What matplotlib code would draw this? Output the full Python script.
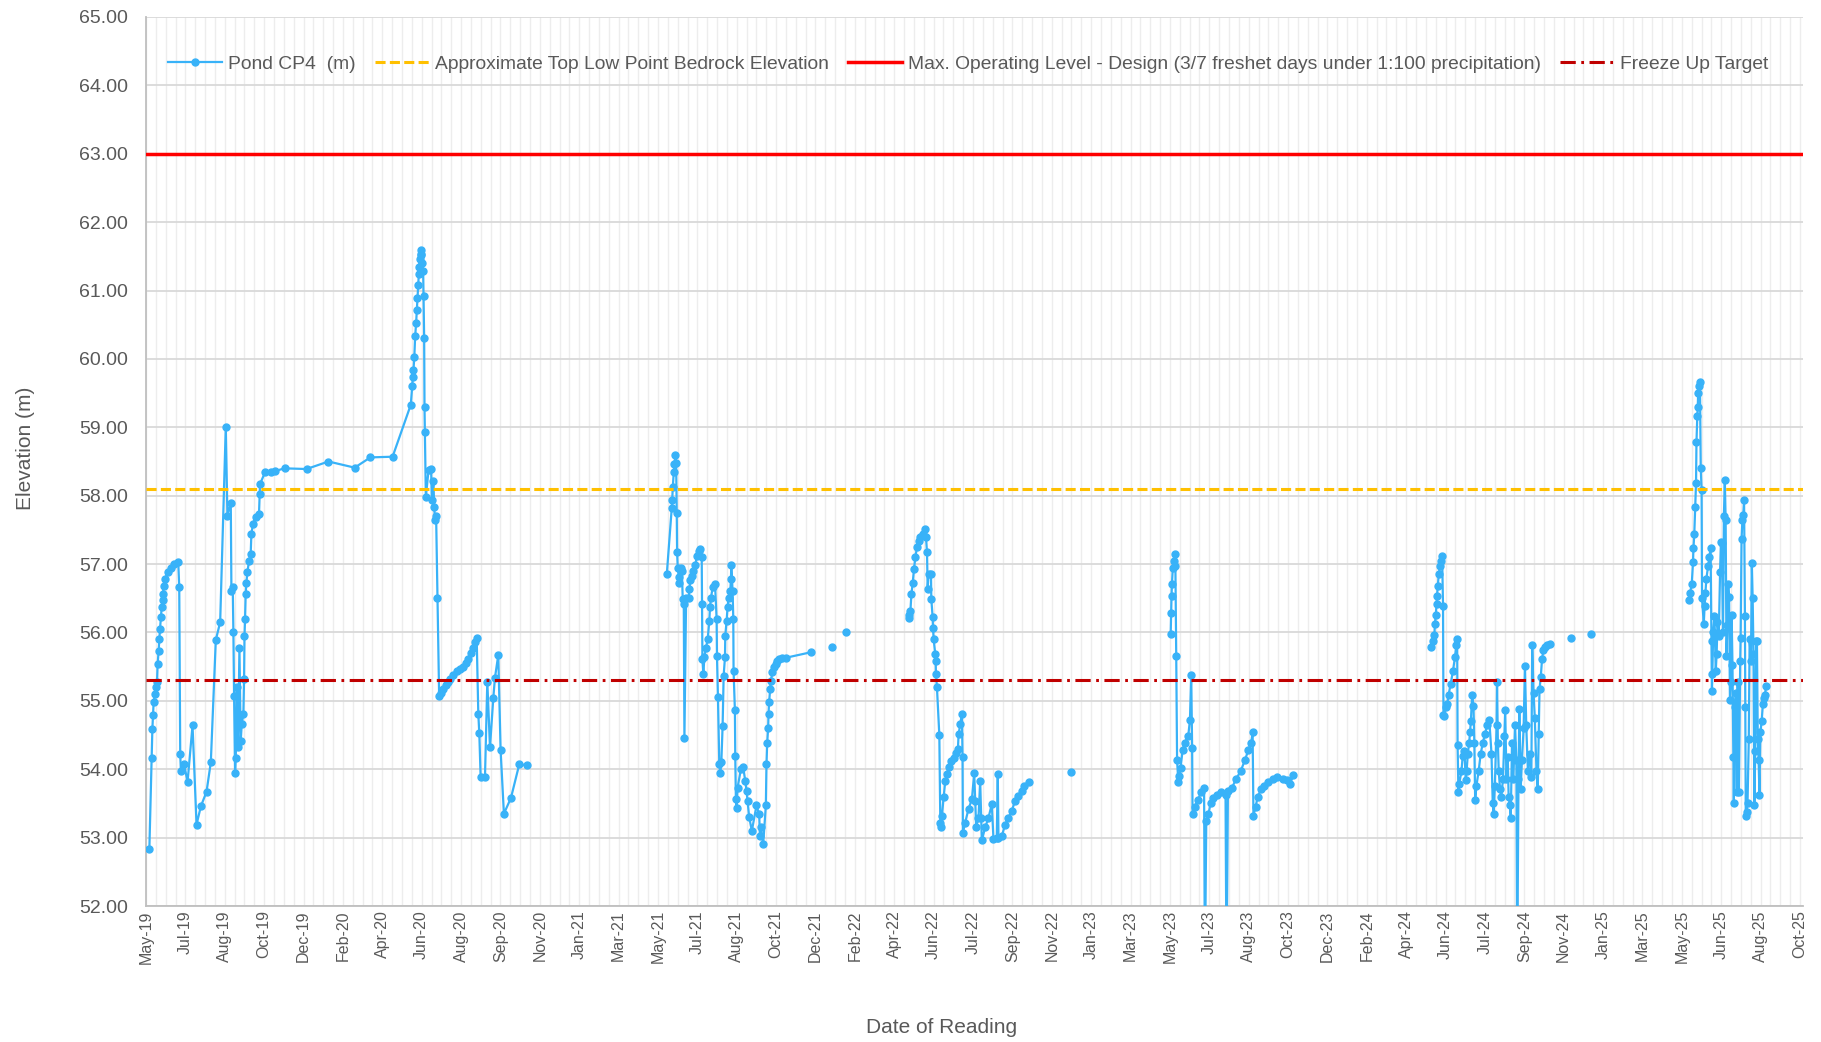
import matplotlib.pyplot as plt
import matplotlib.dates as mdates
import numpy as np

# reading dates are Excel serial day numbers (days since 1899-12-30)
days_2019 = [43600.7, 43604.0, 43605.0, 43605.9, 43606.8, 43608.7, 43610.1, 43611.6, 43612.5, 43613.9,
             43614.9, 43615.8, 43617.2, 43618.2, 43619.6, 43620.1, 43621.0, 43622.9, 43626.7, 43631.4,
             43636.1, 43641.8, 43643.2, 43644.6, 43645.6, 43650.3, 43655.0, 43662.1, 43667.8, 43674.0,
             43682.0, 43688.1, 43695.2, 43701.4, 43709.4, 43711.7, 43716.5, 43717.4, 43719.3, 43720.2,
             43721.2, 43722.6, 43723.6, 43725.0, 43726.9, 43728.8, 43730.6, 43732.1, 43734.4, 43735.4,
             43736.0, 43736.8, 43737.7, 43738.7, 43740.1, 43742.5, 43744.8, 43745.8, 43748.1, 43751.9,
             43756.6, 43757.6, 43758.1, 43765.1, 43773.2, 43779.3, 43793.0, 43824.2, 43855.4, 43892.7,
             43915.0, 43946.6]
level_2019 = [52.83, 54.17, 54.59, 54.79, 54.98, 55.10, 55.20, 55.27, 55.54, 55.73,
              55.91, 56.05, 56.22, 56.37, 56.47, 56.56, 56.68, 56.78, 56.88, 56.95,
              57.00, 57.03, 56.67, 54.22, 53.97, 54.07, 53.81, 54.64, 53.19, 53.46,
              53.67, 54.10, 55.89, 56.15, 59.01, 57.71, 57.90, 56.61, 56.66, 56.01,
              55.07, 53.94, 54.17, 55.20, 54.32, 55.78, 54.41, 54.66, 54.81, 55.32,
              55.95, 56.20, 56.56, 56.73, 56.88, 57.05, 57.15, 57.44, 57.59, 57.69,
              57.73, 58.03, 58.17, 58.34, 58.35, 58.36, 58.40, 58.39, 58.50, 58.41,
              58.56, 58.57]

days_2020 = [43972.5, 43974.5, 43975.3, 43976.3, 43977.5, 43978.7, 43980.1, 43981.1, 43982.0, 43983.0,
             43983.9, 43984.4, 43985.3, 43986.3, 43986.8, 43987.7, 43989.1, 43990.1, 43990.6, 43991.5,
             43992.0, 43992.5, 43993.9, 43997.7, 44001.4, 44002.4, 44004.7, 44005.7, 44007.1, 44008.5,
             44010.4, 44012.8, 44015.0, 44018.9, 44022.0, 44025.0, 44028.4, 44032.0, 44037.8, 44042.0,
             44047.3, 44051.0, 44054.4, 44058.0, 44061.5, 44064.0, 44066.2, 44068.5, 44069.9, 44071.8,
             44078.0, 44081.3, 44085.1, 44089.8, 44092.2, 44096.9, 44100.2, 44104.9, 44114.9, 44126.7,
             44137.1]
level_2020 = [59.33, 59.60, 59.73, 59.84, 60.03, 60.33, 60.53, 60.71, 60.89, 61.08,
              61.24, 61.35, 61.46, 61.52, 61.59, 61.54, 61.40, 61.28, 60.92, 60.30,
              59.29, 58.93, 57.98, 58.37, 58.39, 57.93, 58.22, 57.83, 57.64, 57.71,
              56.51, 55.07, 55.12, 55.17, 55.23, 55.28, 55.32, 55.38, 55.44, 55.46,
              55.49, 55.55, 55.61, 55.70, 55.78, 55.86, 55.92, 54.81, 54.53, 53.89,
              53.89, 55.28, 54.32, 55.04, 55.34, 55.67, 54.28, 53.35, 53.58, 54.07,
              54.06]

days_2021 = [44336.6, 44343.6, 44344.2, 44345.1, 44346.5, 44347.4, 44348.8, 44349.8, 44350.7, 44351.2,
             44352.1, 44353.6, 44354.5, 44356.9, 44358.0, 44359.2, 44360.7, 44361.6, 44364.0, 44367.7,
             44368.7, 44370.1, 44372.5, 44374.4, 44377.2, 44379.1, 44381.9, 44384.3, 44386.2, 44386.6,
             44387.2, 44388.5, 44390.0, 44392.3, 44394.7, 44397.0, 44398.0, 44399.4, 44401.8, 44405.1,
             44407.4, 44407.9, 44409.3, 44411.2, 44412.6, 44414.1, 44415.9, 44417.4, 44419.3, 44419.7,
             44421.6, 44423.0, 44424.4, 44426.8, 44427.8, 44428.2, 44430.1, 44431.1, 44431.5, 44433.4,
             44433.9, 44434.8, 44435.8, 44437.2, 44441.9, 44445.2, 44448.1, 44450.0, 44451.4, 44453.7,
             44457.5, 44464.1, 44467.9, 44469.0, 44470.3, 44473.6, 44477.4, 44478.3, 44479.3, 44480.7,
             44481.2, 44482.1, 44483.5, 44484.5, 44486.8, 44489.2, 44491.6, 44493.9, 44496.3, 44501.0,
             44505.7, 44541.2]
level_2021 = [56.86, 57.82, 57.93, 58.13, 58.35, 58.46, 58.59, 58.48, 57.75, 57.17,
              56.95, 56.81, 56.72, 56.95, 56.90, 56.49, 56.41, 54.46, 56.50, 56.51,
              56.64, 56.76, 56.83, 56.90, 56.98, 57.12, 57.19, 57.22, 57.10, 56.42,
              55.61, 55.39, 55.64, 55.78, 55.90, 56.17, 56.37, 56.51, 56.66, 56.71,
              56.20, 55.66, 55.05, 54.07, 53.94, 54.10, 54.63, 55.37, 55.64, 55.95,
              56.17, 56.37, 56.51, 56.61, 56.78, 56.98, 56.61, 56.20, 55.44, 54.86,
              54.19, 53.56, 53.44, 53.73, 54.00, 54.03, 53.83, 53.68, 53.54, 53.30,
              53.10, 53.47, 53.34, 53.02, 53.15, 52.91, 53.47, 54.07, 54.38, 54.61,
              54.81, 54.99, 55.17, 55.29, 55.42, 55.49, 55.54, 55.59, 55.61, 55.63,
              55.63, 55.71]

days_2022 = [44680.6, 44681.5, 44683.0, 44684.4, 44686.3, 44688.1, 44690.0, 44692.4, 44694.8, 44697.1,
             44700.4, 44704.2, 44705.2, 44706.6, 44707.5, 44708.9, 44712.2, 44712.7, 44714.6, 44715.1,
             44716.0, 44718.4, 44718.9, 44719.3, 44720.7, 44724.1, 44725.5, 44726.0, 44727.8, 44730.2,
             44732.6, 44734.9, 44737.3, 44741.1, 44744.4, 44747.7, 44750.5, 44751.5, 44753.8, 44756.2,
             44757.1, 44757.6, 44760.9, 44765.6, 44770.4, 44773.7, 44775.1, 44776.5, 44779.8, 44782.2,
             44783.6, 44784.5, 44789.3, 44794.0, 44798.7, 44801.1, 44805.8, 44807.2, 44808.2, 44812.9,
             44817.6, 44822.4, 44827.1, 44831.8, 44836.5, 44841.3, 44844.6, 44852.1]
level_2022 = [56.21, 56.26, 56.32, 56.56, 56.73, 56.93, 57.10, 57.25, 57.34, 57.40,
              57.44, 57.51, 57.39, 57.17, 56.64, 56.86, 56.86, 56.49, 56.22, 56.07,
              55.90, 55.68, 55.59, 55.39, 55.20, 54.50, 53.22, 53.16, 53.32, 53.59,
              53.83, 53.93, 54.03, 54.12, 54.17, 54.24, 54.29, 54.51, 54.66, 54.81,
              54.18, 53.07, 53.22, 53.42, 53.56, 53.94, 53.54, 53.16, 53.29, 53.83,
              53.29, 52.96, 53.15, 53.29, 53.49, 52.98, 53.00, 53.93, 53.00, 53.02,
              53.19, 53.29, 53.39, 53.54, 53.61, 53.68, 53.76, 53.82]

days_2023 = [45053.1, 45053.7, 45054.3, 45054.9, 45056.1, 45057.9, 45059.2, 45059.8, 45061.0, 45062.2,
             45064.0, 45065.5, 45067.1, 45070.1, 45073.2, 45078.1, 45080.5, 45082.3, 45083.6, 45084.2,
             45087.2, 45091.5, 45096.4, 45100.6, 45101.8, 45103.7, 45106.7, 45109.8, 45112.8, 45118.9,
             45125.0, 45131.1, 45132.5, 45134.5, 45140.3, 45146.2, 45152.5, 45158.6, 45163.5, 45167.7,
             45169.6, 45170.8, 45173.8, 45176.9, 45181.8, 45186.0, 45192.1, 45198.2, 45204.3, 45213.5,
             45218.3, 45223.2, 45227.5]
level_2023 = [55.98, 56.29, 56.53, 56.71, 56.94, 57.04, 57.15, 56.97, 55.65, 54.13,
              53.81, 53.90, 54.02, 54.28, 54.39, 54.49, 54.72, 55.38, 54.31, 53.34,
              53.45, 53.55, 53.66, 53.73, 51.00, 53.24, 53.34, 53.50, 53.58, 53.63,
              53.66, 53.63, 51.00, 53.68, 53.73, 53.86, 53.97, 54.13, 54.28, 54.39,
              54.54, 53.32, 53.45, 53.60, 53.71, 53.76, 53.81, 53.86, 53.89, 53.86,
              53.84, 53.79, 53.92]

days_2024 = [45423.9, 45425.7, 45428.1, 45428.8, 45430.0, 45431.2, 45431.8, 45433.0, 45434.3, 45436.1,
             45437.9, 45439.1, 45440.4, 45441.0, 45442.2, 45444.0, 45446.5, 45448.3, 45451.3, 45454.4,
             45457.4, 45459.3, 45460.5, 45461.1, 45462.3, 45463.5, 45466.6, 45468.4, 45470.8, 45472.7,
             45473.9, 45475.7, 45477.6, 45478.8, 45480.0, 45481.8, 45483.7, 45484.9, 45486.1, 45487.9,
             45491.0, 45494.0, 45497.1, 45500.1, 45503.2, 45506.2, 45509.3, 45511.1, 45512.3, 45514.1,
             45516.6, 45517.2, 45518.4, 45519.6, 45521.5, 45523.3, 45525.7, 45527.6, 45528.8, 45530.6,
             45532.4, 45533.7, 45535.5, 45536.7, 45538.5, 45540.4, 45542.8, 45544.7, 45545.9, 45547.7,
             45548.9, 45550.8, 45552.6, 45555.0, 45556.9, 45558.7, 45561.1, 45564.2, 45566.0, 45567.2,
             45569.1, 45570.9, 45573.3, 45575.1, 45576.4, 45577.6, 45579.4, 45581.2, 45583.1, 45585.5,
             45588.6, 45592.8]
level_2024 = [55.79, 55.87, 55.96, 56.12, 56.25, 56.41, 56.53, 56.68, 56.85, 56.97,
              57.04, 57.12, 56.39, 54.80, 54.78, 54.91, 54.96, 55.09, 55.25, 55.43,
              55.64, 55.82, 55.91, 54.36, 53.66, 53.79, 53.97, 54.20, 54.26, 53.84,
              53.97, 54.23, 54.39, 54.54, 54.70, 55.09, 54.93, 54.39, 53.55, 53.76,
              53.97, 54.23, 54.39, 54.52, 54.65, 54.72, 54.23, 53.50, 53.34, 53.76,
              54.65, 55.27, 54.39, 53.97, 53.71, 53.60, 53.86, 54.49, 54.86, 53.86,
              54.18, 53.60, 53.47, 53.29, 54.39, 53.86, 54.65, 54.13, 51.00, 53.86,
              54.88, 53.71, 54.13, 54.60, 55.51, 54.65, 53.97, 54.23, 53.89, 55.82,
              55.12, 54.75, 53.97, 53.71, 54.52, 55.17, 55.35, 55.61, 55.74, 55.79,
              55.82, 55.83]

days_2025 = [45789.8, 45791.7, 45794.1, 45795.9, 45796.5, 45797.7, 45799.0, 45800.2, 45800.8, 45802.0,
             45802.6, 45803.2, 45804.5, 45805.7, 45806.9, 45808.1, 45808.7, 45811.2, 45812.4, 45813.6,
             45814.8, 45817.3, 45819.1, 45820.9, 45822.2, 45822.8, 45823.4, 45824.6, 45826.4, 45828.2,
             45829.5, 45830.7, 45832.5, 45834.4, 45835.6, 45836.8, 45838.6, 45839.8, 45841.1, 45842.3,
             45843.5, 45844.7, 45845.9, 45847.2, 45848.4, 45849.6, 45850.8, 45852.0, 45853.3, 45853.9,
             45855.1, 45856.9, 45858.1, 45859.4, 45861.2, 45863.0, 45863.6, 45864.9, 45866.1, 45867.3,
             45868.5, 45869.7, 45870.3, 45870.9, 45872.2, 45873.4, 45875.2, 45876.4, 45878.3, 45879.5,
             45880.7, 45881.9, 45883.1, 45884.4, 45885.6, 45886.8, 45888.0, 45889.2, 45890.4, 45891.7,
             45893.5, 45895.3, 45896.5, 45898.4, 45899.6]
level_2025 = [56.47, 56.58, 56.71, 57.03, 57.23, 57.44, 57.83, 58.19, 58.78, 59.17,
              59.29, 59.50, 59.60, 59.66, 58.40, 58.09, 56.50, 56.13, 56.39, 56.58,
              56.78, 56.97, 57.10, 57.23, 55.87, 55.15, 55.40, 56.00, 56.24, 55.43,
              55.69, 56.16, 55.95, 56.89, 57.33, 57.31, 56.00, 57.70, 58.23, 57.64,
              55.66, 56.11, 56.71, 56.52, 55.01, 55.27, 56.26, 55.53, 54.18, 53.51,
              54.91, 55.12, 53.66, 55.27, 53.66, 55.58, 55.92, 57.36, 57.64, 57.72,
              57.93, 56.24, 54.91, 53.32, 53.37, 53.50, 54.44, 55.90, 55.58, 57.02,
              56.50, 55.69, 53.47, 54.26, 55.87, 55.87, 54.44, 54.13, 53.63, 54.54,
              54.70, 54.96, 55.04, 55.09, 55.22]

# single readings not joined to neighbours
lone_days = [44570.9, 44591.7, 44911.2, 45622.1, 45651.4]
lone_levels = [55.79, 56.00, 53.96, 55.92, 55.98]

bedrock_level = 58.1
max_operating_level = 63.0
freeze_up_target = 55.3

axis_start = 43596  # first date tick (May-19)
major_step = 56
minor_step = 14
n_major = 42

# join the seasons, blank cell between them like the spreadsheet
segments = [(days_2019 + days_2020, level_2019 + level_2020),
            (days_2021, level_2021), (days_2022, level_2022), (days_2023, level_2023),
            (days_2024, level_2024), (days_2025, level_2025)]
segments += [([d], [v]) for d, v in zip(lone_days, lone_levels)]
segments.sort(key=lambda s: s[0][0])

xs, ys = [], []
for d, v in segments:
    xs += list(d) + [np.nan]
    ys += list(v) + [np.nan]

excel0 = mdates.date2num(np.datetime64('1899-12-30'))
x = excel0 + np.array(xs)
y = np.array(ys)

plt.rcParams['font.family'] = ['Liberation Sans', 'DejaVu Sans']
grey = '#595959'

fig = plt.figure(figsize=(18.21, 10.42), dpi=100)
ax = fig.add_axes([0.0802, 0.1305, 0.9098, 0.8532])

ax.plot(x, y, '-o', color='#38B2F8', lw=1.6, ms=5, label='Pond CP4  (m)', zorder=3)
ax.axhline(bedrock_level, color='#FFC000', lw=2.2, ls=(0, (3.3, 1.4)),
           label='Approximate Top Low Point Bedrock Elevation', zorder=4)
ax.axhline(max_operating_level, color='#FF0000', lw=2.5,
           label='Max. Operating Level - Design (3/7 freshet days under 1:100 precipitation)', zorder=4)
ax.axhline(freeze_up_target, color='#C00000', lw=2.2, ls=(0, (5, 1.8, 0.9, 1.8)),
           label='Freeze Up Target', zorder=4)

ax.set_ylim(52, 65)
ax.set_yticks(np.arange(52, 66, 1))
ax.yaxis.set_major_formatter(plt.FormatStrFormatter('%.2f'))

major = excel0 + axis_start + major_step * np.arange(n_major + 1)
minor = excel0 + axis_start + minor_step * np.arange(n_major * 4 + 1)
ax.set_xlim(major[0], major[-1] + 4)
ax.set_xticks(major)
ax.set_xticks(minor, minor=True)
ax.xaxis.set_major_formatter(mdates.DateFormatter('%b-%y'))

ax.grid(axis='y', color='#D9D9D9', lw=1.3, zorder=0)
ax.grid(axis='x', which='both', color='#EDEDED', lw=1.0, zorder=0)
ax.set_axisbelow(True)

ax.tick_params(axis='x', which='both', length=0, labelsize=11.5, labelcolor=grey, pad=3, rotation=90)
ax.tick_params(axis='y', length=0, labelsize=14, labelcolor=grey, pad=13)
for s in ['top', 'right']:
    ax.spines[s].set_visible(False)
for s in ['left', 'bottom']:
    ax.spines[s].set_color('#BFBFBF')
    ax.spines[s].set_linewidth(1.3)

ax.set_ylabel('Elevation (m)', fontsize=15, color=grey)
ax.set_xlabel('Date of Reading', fontsize=15, color=grey)
ax.yaxis.set_label_coords(-0.067, 0.515)
ax.xaxis.set_label_coords(0.48, -0.126)

ax.legend(loc='center left', bbox_to_anchor=(0.0133, 0.947), ncol=4, frameon=False,
          fontsize=13.9, labelcolor=grey, handlelength=2.8, handletextpad=0.3,
          columnspacing=1.0, borderpad=0, borderaxespad=0)

plt.savefig('out.png', dpi=100)
